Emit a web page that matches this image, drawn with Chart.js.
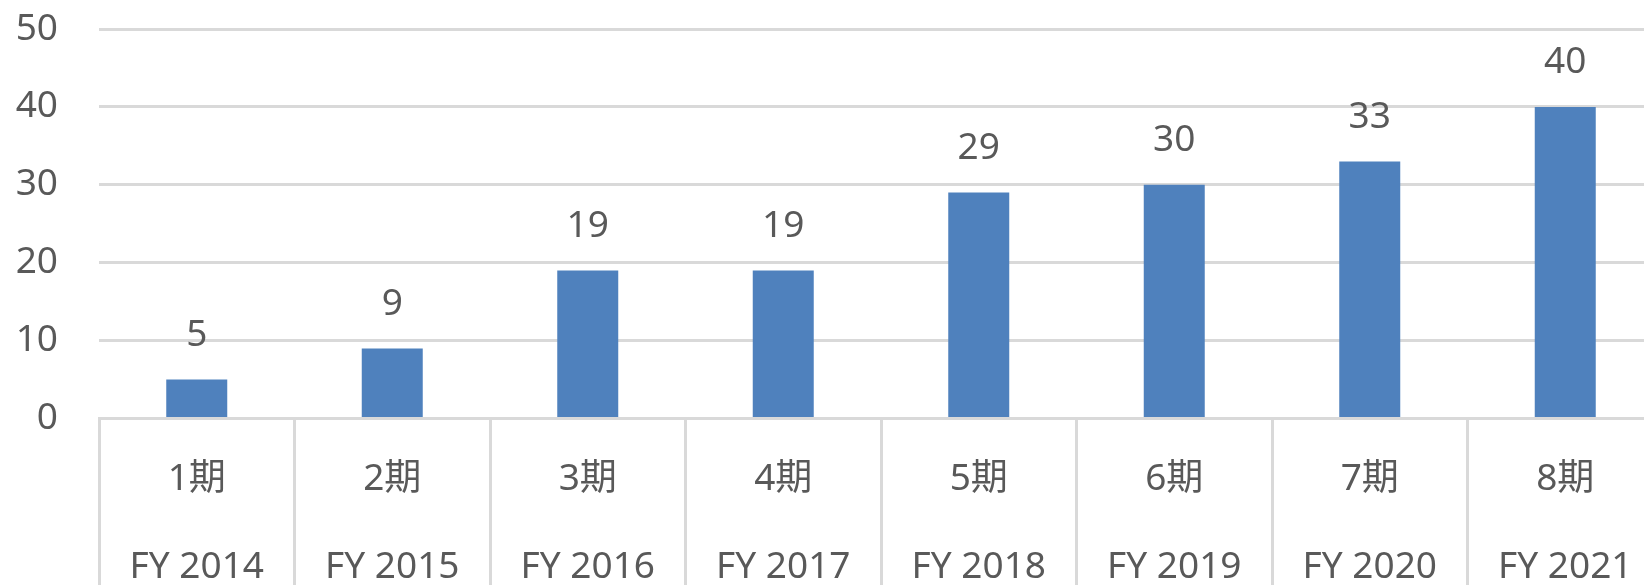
<!DOCTYPE html>
<html>
<head>
<meta charset="utf-8">
<script src="https://cdn.jsdelivr.net/npm/chart.js@4"></script>
<style>
  html, body { margin: 0; padding: 0; background: #fff; overflow: hidden; }
  canvas { display: block; }
</style>
</head>
<body>
<canvas id="chart" width="1666" height="585"></canvas>
<script>
// values
const periodLabels = ['1期', '2期', '3期', '4期', '5期', '6期', '7期', '8期'];
const fiscalYears = ['FY 2014', 'FY 2015', 'FY 2016', 'FY 2017', 'FY 2018', 'FY 2019', 'FY 2020', 'FY 2021'];
const counts = [5, 9, 19, 19, 29, 30, 33, 40];
const yTicks = { min: 0, max: 50, step: 10 };

const textColor = '#595959';
const gridColor = '#d9d9d9';
const fontFamily = '"Noto Sans", "Noto Sans CJK JP", sans-serif';

// two-row category labels
const labels = periodLabels.map((p, i) => [p, fiscalYears[i]]);

// draws the value above each bar
const valueLabels = {
    id: 'valueLabels',
    afterDatasetsDraw(chart) {
        const ctx = chart.ctx;
        const meta = chart.getDatasetMeta(0);
        ctx.save();
        ctx.font = '37px ' + fontFamily;
        ctx.fillStyle = textColor;
        ctx.textAlign = 'center';
        ctx.textBaseline = 'middle';
        meta.data.forEach((bar, i) => {
            ctx.fillText(String(counts[i]), bar.x, bar.y - 44);
        });
        ctx.restore();
    }
};

new Chart(document.getElementById('chart'), {
    type: 'bar',
    data: {
        labels: labels,
        datasets: [{
            data: counts,
            backgroundColor: '#4f81bd',
            borderWidth: 0,
            categoryPercentage: 1.0,
            barPercentage: 0.312
        }]
    },
    options: {
        responsive: false,
        animation: false,
        layout: {
            padding: { top: 29, right: 3, bottom: 0, left: 0 }
        },
        plugins: {
            legend: { display: false },
            tooltip: { enabled: false }
        },
        scales: {
            x: {
                offset: true,
                grid: {
                    offset: true,
                    drawOnChartArea: false,
                    drawTicks: true,
                    tickLength: 180,
                    color: gridColor,
                    lineWidth: 3
                },
                border: { display: true, color: gridColor, width: 3 },
                ticks: {
                    color: textColor,
                    padding: -163,
                    maxRotation: 0,
                    autoSkip: false,
                    font: { family: fontFamily, size: 37, lineHeight: 88 / 37 }
                },
                afterFit(scale) {
                    scale.height = 166.5;
                }
            },
            y: {
                min: yTicks.min,
                max: yTicks.max,
                grid: {
                    color: gridColor,
                    lineWidth: 3,
                    drawTicks: false
                },
                border: { display: false },
                ticks: {
                    stepSize: yTicks.step,
                    color: textColor,
                    padding: 41,
                    font: { family: fontFamily, size: 37 }
                },
                afterFit(scale) {
                    scale.width = 99;
                    // the tick padding is only horizontal here
                    scale.paddingTop = 0;
                    scale.paddingBottom = 0;
                }
            }
        }
    },
    plugins: [valueLabels]
});
</script>
</body>
</html>
